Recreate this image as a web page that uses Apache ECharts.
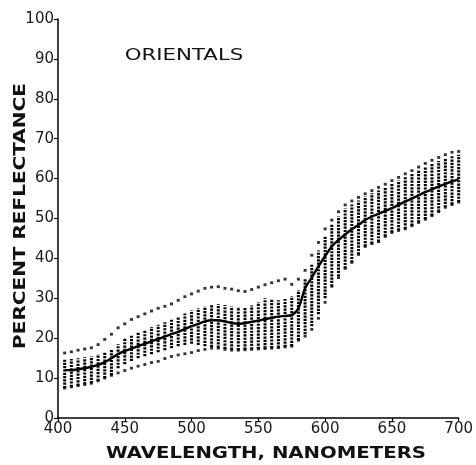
<!DOCTYPE html>
<html>
<head>
<meta charset="utf-8">
<script src="https://cdn.jsdelivr.net/npm/echarts@6/dist/echarts.min.js"></script>
<style>
  html, body { margin: 0; padding: 0; background: #fff; }
  #chart { width: 476px; height: 465px; }
</style>
</head>
<body>
<div id="chart"></div>
<script>
// wavelengths, nm (every 5 nm)
const wavelengths = [405,410,415,420,425,430,435,440,445,450,455,460,465,470,475,480,485,490,495,500,
  505,510,515,520,525,530,535,540,545,550,555,560,565,570,575,580,585,590,595,600,
  605,610,615,620,625,630,635,640,645,650,655,660,665,670,675,680,685,690,695,700]

// mean curve (solid)
const meanValues = [12,12,12.2,12.5,12.8,13.3,14,15,16,16.8,17.4,18,18.6,19.2,19.8,20.4,21,21.6,22.3,23,
  23.6,24.2,24.5,24.5,24.2,23.8,23.6,23.8,24.1,24.4,24.8,25.1,25.4,25.6,25.8,27.5,32.5,35.2,38,40.6,
  43,44.6,46,47.3,48.4,49.6,50.5,51.2,51.9,52.6,53.4,54.3,55,55.8,56.6,57.3,58,58.7,59.3,59.8]

// upper dotted bound
const upperBound = [16.3,16.6,17,17.3,17.6,18.4,19.7,21,22.6,23.6,24.7,25.4,26.1,26.8,27.5,28,28.6,29.5,30.4,31.1,
  31.8,32.5,32.8,32.9,32.5,32.3,31.9,31.7,32.2,32.8,33.4,33.9,34.4,34.8,33.5,34.8,37,40.8,44,47.4,
  49.6,51.7,53.4,54.4,55.3,56.2,57,57.8,58.6,59.5,60.3,61.2,62,62.9,63.8,64.6,65.3,66,66.6,66.8]

// lower dotted bound
const lowerBound = [7.5,7.8,8.1,8.4,8.7,9.3,10,10.7,11.3,11.9,12.5,13,13.4,13.9,14.2,14.9,15.4,15.8,16.1,16.4,
  16.9,17.2,17.5,17.5,17.2,17,17,17.1,17.2,17.3,17.4,17.5,17.6,17.8,18,19.5,20.5,22.2,25,29,
  33,35.2,37.5,39,41,43,43.7,44.2,45.5,46.5,47,47.4,48.2,49,49.8,50.7,51.7,52.8,53.5,54.1]

// individual samples: vertical dotted columns (low / high)
const columnLow = [7.5,7.8,8.1,8.4,8.7,9.3,10,10.7,12.5,13.5,14.3,15,15.5,16,16.5,17,17.5,18,18.3,18.6,
  18.3,18,17.8,17.6,17.3,17.1,17,17.1,17.2,17.3,17.4,17.5,17.6,17.8,18,19.5,21,23,26,30,
  33,35.5,37.5,39,41,43,43.7,44.2,45.5,46.5,47,47.4,48.2,49,49.8,50.7,51.7,52.8,53.5,54.1]
const columnHigh = [14.6,14.8,15,15.2,15.4,16,16.5,17.2,18.5,20,20.8,21.4,22,22.8,23.4,24,24.6,25.4,26.2,27,
  27.5,28,28.5,28.5,28.3,28,27.8,27.7,28.2,29,30,29.8,29.5,29.8,30.5,32,35,38.5,42,45.5,
  48.5,50.5,52.5,53.5,54.5,55.5,56.3,57,57.8,58.7,59.5,60.4,61.2,62,62.9,63.7,64.4,65.1,65.8,66]

const xTicks = [400, 450, 500, 550, 600, 650, 700]
const yTicks = [0, 10, 20, 30, 40, 50, 60, 70, 80, 90, 100]

const chart = echarts.init(document.getElementById('chart'), null, { renderer: 'canvas' })

const zip = (ys) => wavelengths.map((w, i) => [w, ys[i]])

const labelFont = { color: '#1a1a1a', fontFamily: 'DejaVu Sans', fontSize: 15 }

// letter-spaced look of the original is imitated with a horizontal stretch
const stretchedText = (text, x, y, opts) => ({
  type: 'text',
  x: x,
  y: y,
  rotation: opts.rotation || 0,
  scaleX: opts.scaleX || 1,
  style: {
    text: text,
    fill: '#111',
    font: opts.font,
    textAlign: 'center',
    textVerticalAlign: 'middle'
  },
  z: 10
})

const option = {
  backgroundColor: '#fff',
  animation: false,
  grid: { left: 58, right: 16, top: 19, bottom: 47 },
  graphic: [
    stretchedText('ORIENTALS', 184, 56, { font: 'normal 15px "DejaVu Sans"', scaleX: 1.42 }),
    stretchedText('WAVELENGTH, NANOMETERS', 266, 454, { font: 'bold 16px "DejaVu Sans"', scaleX: 1.23 }),
    stretchedText('PERCENT REFLECTANCE', 21, 216, { font: 'bold 16px "DejaVu Sans"', scaleX: 1.25, rotation: Math.PI / 2 })
  ],
  xAxis: {
    type: 'value',
    min: 400,
    max: 700,
    interval: 50,
    axisLine: { lineStyle: { color: '#000', width: 1.5 } },
    axisTick: { length: 4, lineStyle: { color: '#000', width: 1.2 } },
    axisLabel: Object.assign({ margin: 4, formatter: (v) => xTicks.includes(v) ? String(v) : '' }, labelFont),
    splitLine: { show: false }
  },
  yAxis: {
    type: 'value',
    min: 0,
    max: 100,
    interval: 10,
    axisLine: { show: true, lineStyle: { color: '#000', width: 1.5 } },
    axisTick: { show: true, length: 4, lineStyle: { color: '#000', width: 1.2 } },
    axisLabel: Object.assign({ margin: 4, formatter: (v) => yTicks.includes(v) ? String(v) : '' }, labelFont),
    splitLine: { show: false }
  },
  series: [
    {
      // dotted columns of individual samples
      type: 'custom',
      data: wavelengths.map((w, i) => [w, columnLow[i], columnHigh[i]]),
      encode: { x: 0, y: [1, 2] },
      renderItem: (params, api) => {
        const p1 = api.coord([api.value(0), api.value(1)])
        const p2 = api.coord([api.value(0), api.value(2)])
        return {
          type: 'line',
          shape: { x1: p1[0], y1: p1[1], x2: p2[0], y2: p2[1] },
          style: { stroke: '#000', lineWidth: 3, lineDash: [2.2, 1.1] }
        }
      },
      z: 2
    },
    {
      name: 'upper',
      type: 'scatter',
      data: zip(upperBound),
      symbol: 'rect',
      symbolSize: [3, 2.8],
      itemStyle: { color: '#000' },
      z: 3
    },
    {
      name: 'lower',
      type: 'scatter',
      data: zip(lowerBound),
      symbol: 'rect',
      symbolSize: [3, 2.8],
      itemStyle: { color: '#000' },
      z: 3
    },
    {
      name: 'mean',
      type: 'line',
      data: zip(meanValues),
      smooth: 0.3,
      showSymbol: false,
      lineStyle: { color: '#000', width: 2.4 },
      z: 4
    }
  ]
}

chart.setOption(option)
</script>
</body>
</html>
